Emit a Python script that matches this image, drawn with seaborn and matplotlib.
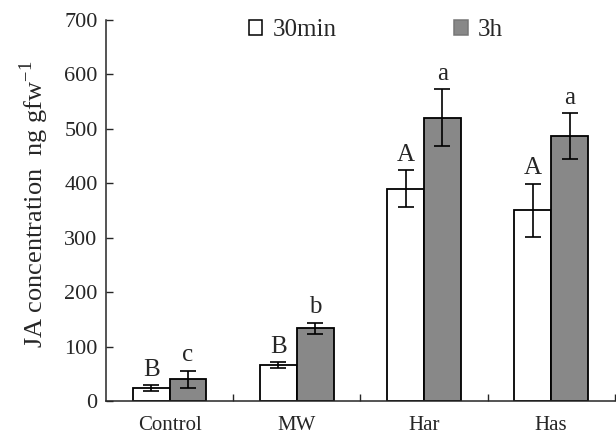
import numpy as np
import pandas as pd
import matplotlib
matplotlib.use("Agg")
import matplotlib.pyplot as plt
import seaborn as sns
from matplotlib.patches import Patch

# data
groups = ["Control", "MW", "Har", "Has"]
times = ["30min", "3h"]
ja_30min = [24, 66, 390, 350]
ja_3h = [40, 134, 520, 487]
err_30min = [5, 5, 34, 49]
err_3h = [16, 10, 52, 42]
letters_30min = ["B", "B", "A", "A"]
letters_3h = ["c", "b", "a", "a"]

df = pd.DataFrame({
    "group": groups * 2,
    "time": [times[0]] * 4 + [times[1]] * 4,
    "value": ja_30min + ja_3h,
})

sns.set_style("ticks")
plt.rcParams["font.family"] = ["Liberation Serif", "DejaVu Serif"]
plt.rcParams["mathtext.fontset"] = "custom"
plt.rcParams["mathtext.rm"] = "Liberation Serif"

fig = plt.figure(figsize=(6.16, 4.37), dpi=100)
ax = fig.add_axes([0.172, 0.082, 0.826, 0.873])

colors = {"30min": "white", "3h": "#888888"}
sns.barplot(data=df, x="group", y="value", hue="time", order=groups,
            hue_order=times, palette=colors, edgecolor="black", linewidth=1.3,
            width=0.58, errorbar=None, legend=False, ax=ax)

# error bars and significance letters
n = len(groups)
bars = ax.patches[:2 * n]
for i, (vals, errs, labs) in enumerate([(ja_30min, err_30min, letters_30min),
                                         (ja_3h, err_3h, letters_3h)]):
    for j in range(n):
        p = bars[i * n + j]
        xc = p.get_x() + p.get_width() / 2
        ax.errorbar(xc, vals[j], yerr=errs[j], fmt="none", ecolor="black",
                    elinewidth=1.2, capsize=6, capthick=1.2)
        ax.text(xc, vals[j] + errs[j] + 8, labs[j], ha="center", va="bottom",
                fontsize=18)

ax.set_xlim(-0.5, 3.5)
ax.set_ylim(0, 700)
ax.set_yticks(range(0, 701, 100))
ax.set_xlabel("")
ax.set_ylabel("JA concentration  ng gfw$^{\\mathrm{-1}}$", fontsize=19)
ax.yaxis.set_label_coords(-0.108, 0.515)
ax.set_xticks(np.arange(n))
ax.set_xticklabels(groups)
ax.set_xticks(np.arange(n) + 0.5, minor=True)
ax.tick_params(axis="x", which="major", length=0, labelsize=15, pad=11)
ax.tick_params(axis="x", which="minor", direction="in", length=5, width=1)
ax.tick_params(axis="y", direction="in", length=5, width=1, labelsize=16, pad=6)
for s in ["top", "right"]:
    ax.spines[s].set_visible(False)
for s in ["left", "bottom"]:
    ax.spines[s].set_linewidth(1.1)

handles = [Patch(facecolor="white", edgecolor="black", linewidth=1.1),
           Patch(facecolor="#888888", edgecolor="#777777", linewidth=1.1)]
ax.legend(handles, times, loc="upper center", bbox_to_anchor=(0.53, 1.06),
          ncol=2, frameon=False, fontsize=18, handlelength=0.55, handleheight=0.55,
          handletextpad=0.4, columnspacing=4.7)

fig.savefig("out.png", dpi=100)
